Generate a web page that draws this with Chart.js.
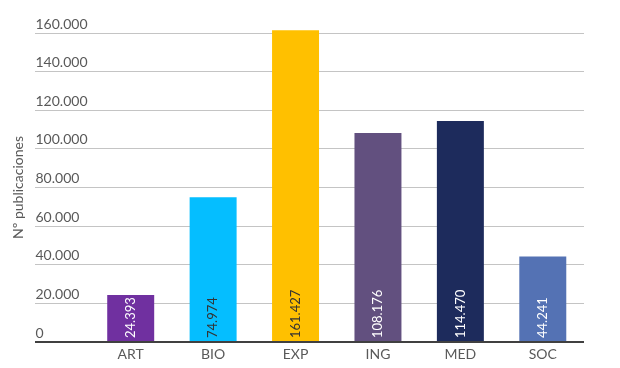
<!DOCTYPE html>
<html>
<head>
<meta charset="utf-8">
<script src="https://cdn.jsdelivr.net/npm/chart.js@4"></script>
<style>
  html, body { margin: 0; padding: 0; background: #fff; }
  #wrap { width: 620px; height: 368px; position: relative; }
</style>
</head>
<body>
<div id="wrap"><canvas id="barChart"></canvas></div>
<script>
// datos
const categorias = ['ART', 'BIO', 'EXP', 'ING', 'MED', 'SOC'];
const publicaciones = [24393, 74974, 161427, 108176, 114470, 44241];
const coloresBarras = ['#7030a0', '#05beff', '#ffc000', '#62507f', '#1d2b5c', '#5472b4'];
const coloresEtiquetas = ['#ffffff', '#333333', '#333333', '#ffffff', '#ffffff', '#ffffff'];
const ticksY = [0, 20000, 40000, 60000, 80000, 100000, 120000, 140000, 160000];

function formatoMiles(v) {
    return String(v).replace(/\B(?=(\d{3})+(?!\d))/g, '.');
}

// etiquetas verticales dentro de cada barra
const etiquetasBarras = {
    id: 'etiquetasBarras',
    afterDatasetsDraw(chart) {
        const ctx = chart.ctx;
        const meta = chart.getDatasetMeta(0);
        const base = chart.scales.y.getPixelForValue(0);
        ctx.save();
        ctx.font = '13px Lato';
        ctx.textAlign = 'left';
        ctx.textBaseline = 'middle';
        meta.data.forEach(function(bar, i) {
            ctx.save();
            ctx.translate(bar.x, base - 4);
            ctx.rotate(-Math.PI / 2);
            ctx.fillStyle = coloresEtiquetas[i];
            ctx.fillText(formatoMiles(publicaciones[i]), 0, 0);
            ctx.restore();
        });
        ctx.restore();
    }
};

const ctx = document.getElementById('barChart').getContext('2d');
new Chart(ctx, {
    type: 'bar',
    data: {
        labels: categorias,
        datasets: [{
            data: publicaciones,
            backgroundColor: coloresBarras,
            borderWidth: 0,
            barPercentage: 0.57,
            categoryPercentage: 1,
            clip: false
        }]
    },
    options: {
        responsive: true,
        maintainAspectRatio: false,
        animation: false,
        layout: { padding: { top: 33, right: 36, bottom: 4, left: 0 } },
        plugins: {
            legend: { display: false },
            tooltip: { enabled: false }
        },
        scales: {
            x: {
                afterFit: function(scale) { scale.height = 22; },
                grid: { display: false, drawTicks: false },
                border: { display: false },
                ticks: {
                    color: '#595959',
                    font: { family: 'Lato', size: 14 },
                    padding: 4
                }
            },
            y: {
                min: 0,
                max: 160000,
                afterFit: function(scale) { scale.width = 89.5; },
                afterBuildTicks: function(scale) {
                    scale.ticks = ticksY.map(function(v) { return { value: v }; });
                },
                border: { display: false },
                grid: {
                    tickLength: 54.5,
                    color: function(c) { return c.tick && c.tick.value === 0 ? '#404040' : '#c4c4c4'; },
                    lineWidth: function(c) { return c.tick && c.tick.value === 0 ? 2 : 1; }
                },
                ticks: {
                    mirror: true,
                    padding: -54,
                    crossAlign: 'near',
                    labelOffset: -9,
                    color: '#595959',
                    font: { family: 'Lato', size: 14 },
                    callback: function(v) { return formatoMiles(v); }
                },
                title: {
                    display: true,
                    text: 'Nº publicaciones',
                    color: '#595959',
                    font: { family: 'Lato', size: 14 },
                    padding: { top: 10, bottom: 0 }
                }
            }
        }
    },
    plugins: [etiquetasBarras]
});
</script>
</body>
</html>
